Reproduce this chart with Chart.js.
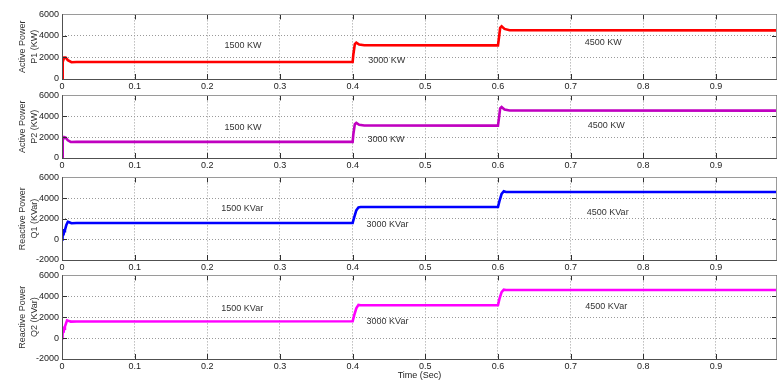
<!DOCTYPE html>
<html>
<head>
<meta charset="utf-8">
<script src="https://cdn.jsdelivr.net/npm/chart.js@4/dist/chart.umd.min.js"></script>
<style>
  html, body { margin: 0; padding: 0; background: #ffffff; }
  #wrap { position: relative; width: 779px; height: 381px; overflow: hidden; background: #fff; }
  #wrap canvas { position: absolute; left: 0; }
</style>
</head>
<body>
<div id="wrap">
  <canvas id="c1"></canvas>
  <canvas id="c2"></canvas>
  <canvas id="c3"></canvas>
  <canvas id="c4"></canvas>
</div>
<script>
// ---------- DATA ----------
const xTickValues = [0, 0.1, 0.2, 0.3, 0.4, 0.5, 0.6, 0.7, 0.8, 0.9];
const xTickLabels = ['0', '0.1', '0.2', '0.3', '0.4', '0.5', '0.6', '0.7', '0.8', '0.9'];
const xMax = 0.984;
const yTicksActive = [0, 2000, 4000, 6000];
const yTicksReactive = [-2000, 0, 2000, 4000, 6000];

// Active power P1 (KW)
const timeP1  = [0, 0.001, 0.003, 0.005, 0.008, 0.013, 0.02, 0.4, 0.401, 0.403, 0.405, 0.409, 0.416, 0.6, 0.6015, 0.603, 0.605, 0.609, 0.616, 0.984];
const valueP1 = [0, 1600, 2000, 2000, 1750, 1560, 1580, 1580, 2300, 3250, 3380, 3200, 3130, 3120, 3900, 4750, 4900, 4650, 4530, 4520];

// Active power P2 (KW)
const timeP2  = [0, 0.001, 0.003, 0.005, 0.008, 0.012, 0.02, 0.4, 0.401, 0.403, 0.405, 0.409, 0.416, 0.6, 0.6015, 0.603, 0.605, 0.609, 0.616, 0.984];
const valueP2 = [0, 1700, 2000, 1950, 1700, 1540, 1550, 1550, 2300, 3250, 3360, 3180, 3110, 3100, 3900, 4750, 4890, 4650, 4550, 4540];

// Reactive power Q1 (KVar)
const timeQ1  = [0, 0.0005, 0.001, 0.0015, 0.002, 0.003, 0.004, 0.006, 0.008, 0.010, 0.013, 0.02, 0.4, 0.402, 0.405, 0.408, 0.411, 0.6, 0.602, 0.605, 0.608, 0.611, 0.984];
const valueQ1 = [0, 900, 200, 1000, 400, 800, 900, 1400, 1700, 1650, 1560, 1580, 1600, 2100, 2800, 3100, 3130, 3130, 3700, 4400, 4660, 4590, 4580];

// Reactive power Q2 (KVar)
const timeQ2  = [0, 0.0005, 0.001, 0.0015, 0.002, 0.003, 0.004, 0.006, 0.007, 0.009, 0.012, 0.02, 0.4, 0.402, 0.405, 0.408, 0.411, 0.6, 0.602, 0.605, 0.608, 0.611, 0.984];
const valueQ2 = [0, 1000, 300, 1100, 500, 900, 1100, 1500, 1700, 1650, 1580, 1590, 1610, 2150, 2850, 3180, 3150, 3150, 3750, 4400, 4640, 4610, 4600];

// Text labels inside each panel: [x (s), y (value), text]
const notesP1 = [[0.249, 3100, '1500 KW'], [0.447, 1700, '3000 KW'], [0.745, 3350, '4500 KW']];
const notesP2 = [[0.249, 2950, '1500 KW'], [0.446, 1800, '3000 KW'], [0.749, 3100, '4500 KW']];
const notesQ1 = [[0.248, 3000, '1500 KVar'], [0.448, 1420, '3000 KVar'], [0.751, 2580, '4500 KVar']];
const notesQ2 = [[0.248, 2860, '1500 KVar'], [0.448, 1550, '3000 KVar'], [0.749, 3050, '4500 KVar']];

// ---------- LAYOUT ----------
const FONT = 'Liberation Sans, Arial, sans-serif';
const PAD_TOP = 8;
const panels = [
  { id: 'c1', top: 14,  bottom: 79,  axisH: 16, t: timeP1, v: valueP1, color: '#ff0000', yTicks: yTicksActive,   title: ['Active Power', 'P1 (KW)'],   notes: notesP1, xTitle: null },
  { id: 'c2', top: 95,  bottom: 158, axisH: 16, t: timeP2, v: valueP2, color: '#c000c0', yTicks: yTicksActive,   title: ['Active Power', 'P2 (KW)'],   notes: notesP2, xTitle: null },
  { id: 'c3', top: 177, bottom: 260, axisH: 15, t: timeQ1, v: valueQ1, color: '#0000ff', yTicks: yTicksReactive, title: ['Reactive Power', 'Q1 (KVar)'], notes: notesQ1, xTitle: null },
  { id: 'c4', top: 275, bottom: 359, axisH: 22, t: timeQ2, v: valueQ2, color: '#ff00ff', yTicks: yTicksReactive, title: ['Reactive Power', 'Q2 (KVar)'], notes: notesQ2, xTitle: 'Time (Sec)' }
];

// box, inward ticks and text notes, MATLAB style
const framePlugin = {
  id: 'frame',
  afterDatasetsDraw(chart, args, opts) {
    const ctx = chart.ctx;
    const a = chart.chartArea;
    const xs = chart.scales.x, ys = chart.scales.y;
    ctx.save();
    // notes
    ctx.font = '9px ' + FONT;
    ctx.fillStyle = '#333333';
    ctx.textAlign = 'center';
    ctx.textBaseline = 'middle';
    (opts.notes || []).forEach(n => {
      ctx.fillText(n[2], xs.getPixelForValue(n[0]), ys.getPixelForValue(n[1]));
    });
    // inward ticks
    ctx.strokeStyle = '#303030';
    ctx.lineWidth = 1;
    ctx.beginPath();
    xs.ticks.forEach(t => {
      const px = Math.round(xs.getPixelForValue(t.value)) + 0.5;
      ctx.moveTo(px, a.bottom); ctx.lineTo(px, a.bottom - 5);
      ctx.moveTo(px, a.top); ctx.lineTo(px, a.top + 5);
    });
    ys.ticks.forEach(t => {
      const py = Math.round(ys.getPixelForValue(t.value)) + 0.5;
      ctx.moveTo(a.left, py); ctx.lineTo(a.left + 5, py);
      ctx.moveTo(a.right, py); ctx.lineTo(a.right - 5, py);
    });
    ctx.stroke();
    // box
    const L = Math.round(a.left) + 0.5, R = Math.round(a.right) - 0.5;
    const T = Math.round(a.top) + 0.5, B = Math.round(a.bottom) + 0.5;
    ctx.strokeStyle = '#9a9a9a';
    ctx.beginPath();
    ctx.moveTo(L, T); ctx.lineTo(R, T); ctx.lineTo(R, B);
    ctx.stroke();
    ctx.strokeStyle = '#505050';
    ctx.beginPath();
    ctx.moveTo(L, T); ctx.lineTo(L, B); ctx.lineTo(R, B);
    ctx.stroke();
    ctx.restore();
  }
};

panels.forEach(p => {
  const canvas = document.getElementById(p.id);
  const h = PAD_TOP + (p.bottom - p.top) + p.axisH;
  canvas.style.top = (p.top - PAD_TOP) + 'px';
  canvas.width = 779; canvas.height = h;
  canvas.style.width = '779px'; canvas.style.height = h + 'px';

  const pts = p.t.map((x, i) => ({ x: x, y: p.v[i] }));
  const yMin = p.yTicks[0], yMaxV = p.yTicks[p.yTicks.length - 1];

  new Chart(canvas, {
    type: 'line',
    data: { datasets: [{ data: pts, borderColor: p.color, backgroundColor: p.color, borderWidth: 2.6, pointRadius: 0, tension: 0, fill: false }] },
    options: {
      responsive: false,
      animation: false,
      events: [],
      layout: { padding: { top: PAD_TOP, left: 0, right: 2, bottom: 0 } },
      plugins: { legend: { display: false }, tooltip: { enabled: false }, frame: { notes: p.notes } },
      scales: {
        x: {
          type: 'linear', min: 0, max: xMax,
          afterBuildTicks: s => { s.ticks = xTickValues.map(v => ({ value: v })); },
          afterFit: s => { s.height = p.axisH; },
          ticks: {
            callback: (val) => { const i = xTickValues.findIndex(v => Math.abs(v - val) < 1e-9); return i >= 0 ? xTickLabels[i] : ''; },
            font: { family: FONT, size: 9 }, color: '#222', padding: 2, maxRotation: 0, autoSkip: false
          },
          grid: { color: '#9a9a9a', drawTicks: false, tickBorderDash: [1, 2], lineWidth: 1 },
          border: { display: false, dash: [1, 2] },
          title: p.xTitle ? { display: true, text: p.xTitle, font: { family: FONT, size: 9 }, color: '#222', padding: { top: 0, bottom: 0 } } : { display: false }
        },
        y: {
          type: 'linear', min: yMin, max: yMaxV,
          afterBuildTicks: s => { s.ticks = p.yTicks.map(v => ({ value: v })); },
          afterFit: s => { s.width = 62; },
          ticks: { font: { family: FONT, size: 9 }, color: '#222', padding: 3, callback: v => String(v) },
          grid: { color: '#9a9a9a', drawTicks: false, lineWidth: 1 },
          border: { display: false, dash: [1, 2] },
          title: { display: true, text: p.title, font: { family: FONT, size: 9, lineHeight: 1.3 }, color: '#333', padding: { top: 17, bottom: 0 } }
        }
      }
    },
    plugins: [framePlugin]
  });
});
</script>
</body>
</html>
